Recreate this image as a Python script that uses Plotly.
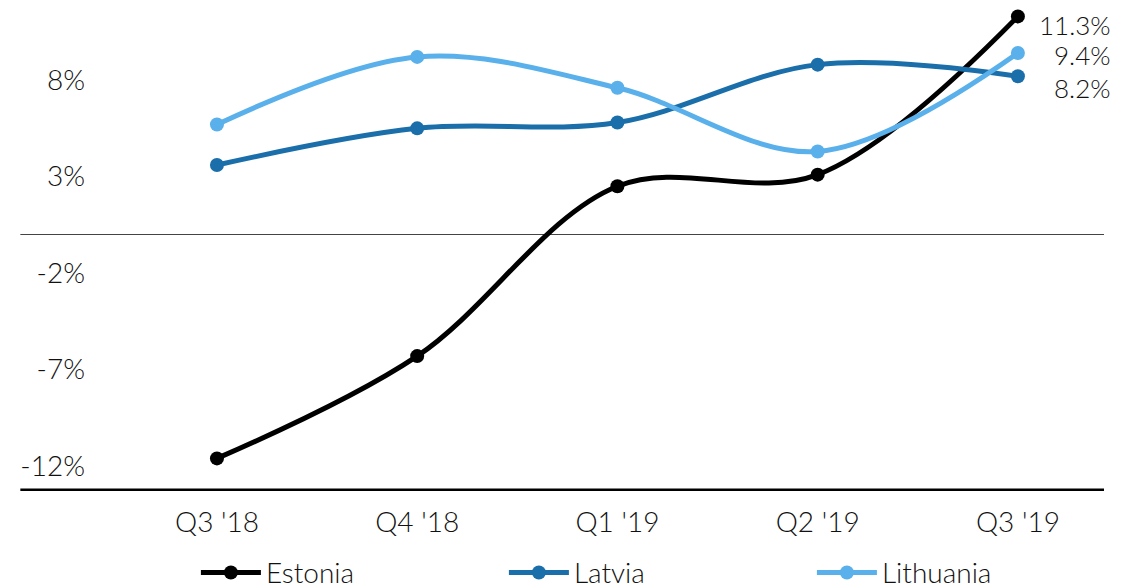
import plotly.graph_objects as go

quarters = ["Q3 '18", "Q4 '18", "Q1 '19", "Q2 '19", "Q3 '19"]
estonia = [-11.6, -6.3, 2.5, 3.1, 11.3]
latvia = [3.6, 5.5, 5.8, 8.8, 8.2]
lithuania = [5.7, 9.2, 7.6, 4.3, 9.4]
y_ticks = [-12, -7, -2, 3, 8]
y_tick_labels = ["-12%", "-7%", "-2%", "3%", "8%"]

FONT = "Lato"
series = [
    ("Estonia", estonia, "#000000"),
    ("Latvia", latvia, "#1a6ea9"),
    ("Lithuania", lithuania, "#59b0ea"),
]

fig = go.Figure()
xs = list(range(len(quarters)))
for name, vals, col in series:
    fig.add_trace(go.Scatter(
        x=xs, y=vals, name=name, mode="lines+markers",
        line=dict(color=col, width=5, shape="spline", smoothing=1),
        marker=dict(color=col, size=14),
        cliponaxis=False,
    ))

# end labels
label_shift = {"Estonia": -9, "Latvia": -12, "Lithuania": -2}
for name, vals, col in series:
    fig.add_annotation(
        x=xs[-1], y=vals[-1], text=f"{vals[-1]:.1f}%", showarrow=False,
        xanchor="right", yanchor="middle", xshift=95, yshift=label_shift[name],
        font=dict(family=FONT, size=26, color="#111111", weight=300),
    )

# baseline and zero line
fig.add_shape(type="line", xref="paper", yref="y", x0=-0.074, x1=1, y0=-13.29, y1=-13.29,
              line=dict(color="#000000", width=5), layer="above")
fig.add_shape(type="line", xref="paper", yref="y", x0=-0.074, x1=1, y0=0, y1=0,
              line=dict(color="#444444", width=1.2), layer="below")

fig.update_layout(
    width=1138, height=588,
    margin=dict(l=95, r=34, t=5, b=97, autoexpand=False),
    paper_bgcolor="white", plot_bgcolor="white",
    font=dict(family=FONT, size=28, color="#111111", weight=300),
    showlegend=True,
    legend=dict(orientation="h", x=0.1, y=-0.117, xanchor="left", yanchor="top",
                entrywidth=233, entrywidthmode="pixels",
                font=dict(family=FONT, size=28, color="#111111", weight=300),
                itemwidth=60, bgcolor="rgba(0,0,0,0)"),
    xaxis=dict(tickmode="array", tickvals=xs, ticktext=quarters,
               range=[-0.609, 4.43], showgrid=False, zeroline=False, showline=False,
               ticks="", ticklabelstandoff=12),
    yaxis=dict(tickmode="array", tickvals=y_ticks, ticktext=y_tick_labels,
               range=[-13.29, 11.89], showgrid=False, zeroline=False, showline=False,
               ticks="", ticklabelstandoff=9),
)

fig.write_html("out.html", config={"displayModeBar": False},
               post_script="document.body.style.margin='0';document.body.style.overflow='hidden';")
